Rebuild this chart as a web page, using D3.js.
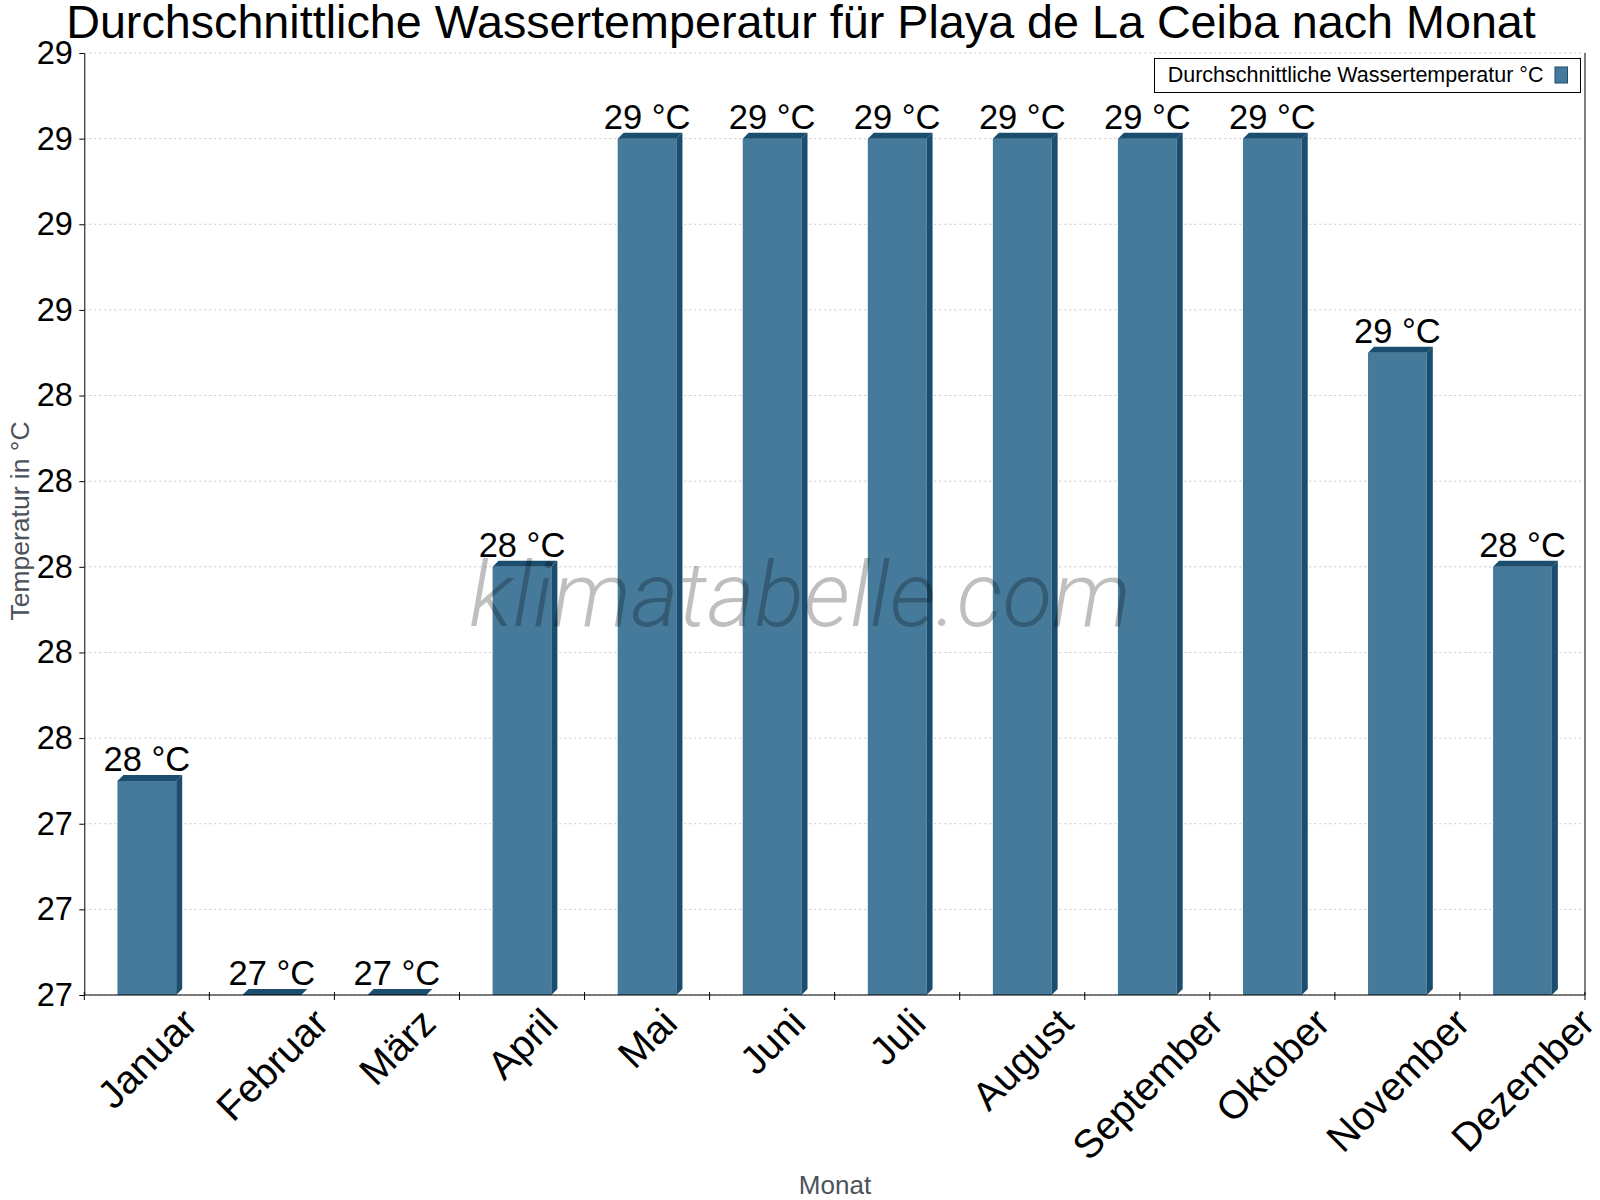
<!DOCTYPE html>
<html>
<head>
<meta charset="utf-8">
<script src="https://cdn.jsdelivr.net/npm/d3@7"></script>
<style>
    body { margin: 0; background: #fff; }
    text { font-family: "Liberation Sans", Arial, sans-serif; }
</style>
</head>
<body>
<div id="chart"></div>
<script>
// data
const months = ["Januar", "Februar", "März", "April", "Mai", "Juni", "Juli", "August", "September", "Oktober", "November", "Dezember"];
const waterTemp = [27.5, 27, 27, 28, 29, 29, 29, 29, 29, 29, 28.5, 28];
const yTicks = [27, 27.2, 27.4, 27.6, 27.8, 28, 28.2, 28.4, 28.6, 28.8, 29, 29.2];
const yDomain = [27, 29.2];

const chartTitle = "Durchschnittliche Wassertemperatur für Playa de La Ceiba nach Monat";
const seriesName = "Durchschnittliche Wassertemperatur °C";
const yTitle = "Temperatur in °C";
const xTitle = "Monat";
const watermark = "klimatabelle.com";

class Barchart {
    constructor(_config, _data) {
        this.config = {
            parentElement: _config.parentElement,
            containerWidth: 1600,
            containerHeight: 1200,
            margin: { top: 53, right: 15, bottom: 205, left: 84.3 },
            front: "#467a9b",
            dark: "#1b4d6e",
            depth: 6
        }
        this.data = _data;
        this.initVis();
    }

    initVis() {
        let vis = this;
        const c = vis.config;

        c.width = c.containerWidth - c.margin.left - c.margin.right;
        c.height = c.containerHeight - c.margin.top - c.margin.bottom;

        vis.root = d3.select(c.parentElement)
            .append("svg")
            .attr("width", c.containerWidth)
            .attr("height", c.containerHeight);

        vis.svg = vis.root.append("g")
            .attr("transform", `translate(${c.margin.left},${c.margin.top})`);

        vis.xScale = d3.scaleBand()
            .domain(months)
            .range([0, c.width])
            .padding(0);

        vis.yScale = d3.scaleLinear()
            .domain(yDomain)
            .range([c.height, 0]);

        // title
        vis.root.append("text")
            .attr("x", 801)
            .attr("y", 38)
            .attr("text-anchor", "middle")
            .attr("font-size", 46.7)
            .attr("fill", "#000")
            .text(chartTitle);

        // grid
        vis.svg.append("g")
            .selectAll("line")
            .data(yTicks)
            .join("line")
            .attr("x1", 0)
            .attr("x2", c.width)
            .attr("y1", d => vis.yScale(d))
            .attr("y2", d => vis.yScale(d))
            .attr("stroke", "#c8c8c8")
            .attr("stroke-dasharray", "2,3");

        // y axis
        vis.yAxis = d3.axisLeft(vis.yScale)
            .tickValues(yTicks)
            .tickFormat(d3.format(".0f"))
            .tickSize(5)
            .tickSizeOuter(0)
            .tickPadding(6.5);

        vis.svg.append("g")
            .attr("class", "y-axis axis")
            .call(vis.yAxis)
            .call(g => g.selectAll("text").attr("font-size", 32.5).attr("fill", "#000")
                .style("font-family", "'Liberation Sans', Arial, sans-serif"))
            .call(g => g.selectAll("line, path").attr("stroke", "#000"));

        // right border
        vis.svg.append("line")
            .attr("x1", c.width).attr("x2", c.width)
            .attr("y1", 0).attr("y2", c.height)
            .attr("stroke", "#000");

        vis.updateVis();
    }

    updateVis() {
        let vis = this;
        const c = vis.config;
        const d = c.depth;
        const bw = vis.xScale.bandwidth() * 0.47;
        const base = vis.yScale(yDomain[0]);

        let bars = vis.svg.append("g").selectAll(".bar")
            .data(vis.data)
            .join("g")
            .attr("class", "bar");

        bars.each(function(p) {
            const g = d3.select(this);
            const x0 = vis.xScale(p.month) + (vis.xScale.bandwidth() - bw) / 2;
            const x1 = x0 + bw;
            const y = vis.yScale(p.value);

            g.append("rect")
                .attr("x", x0)
                .attr("y", y)
                .attr("width", bw)
                .attr("height", base - y)
                .attr("fill", c.front);

            // side face
            if (base - y > 0) {
                g.append("path")
                    .attr("d", `M${x1},${y}L${x1 + d},${y - d}L${x1 + d},${base - d}L${x1},${base}Z`)
                    .attr("fill", c.dark);
            }

            // top face
            g.append("path")
                .attr("d", `M${x0},${y}L${x0 + d},${y - d}L${x1 + d},${y - d}L${x1},${y}Z`)
                .attr("fill", c.dark);
        });

        // value labels
        vis.svg.append("g").selectAll(".value-label")
            .data(vis.data)
            .join("text")
            .attr("class", "value-label")
            .attr("x", p => vis.xScale(p.month) + vis.xScale.bandwidth() / 2)
            .attr("y", p => vis.yScale(p.value) - 10)
            .attr("text-anchor", "middle")
            .attr("font-size", 34.5)
            .attr("fill", "#000")
            .text(p => Math.round(p.value) + " °C");

        // x axis line + ticks at band edges
        const xAxisG = vis.svg.append("g")
            .attr("class", "x-axis axis")
            .attr("transform", `translate(0,${c.height})`);

        xAxisG.append("line")
            .attr("x1", 0).attr("x2", c.width)
            .attr("stroke", "#000");

        xAxisG.selectAll(".tick")
            .data(months.map(m => vis.xScale(m)).concat([c.width]))
            .join("line")
            .attr("class", "tick")
            .attr("x1", x => x).attr("x2", x => x)
            .attr("y1", -3).attr("y2", 5)
            .attr("stroke", "#000");

        // rotated month labels
        const labels = xAxisG.selectAll(".month-label")
            .data(months)
            .join("text")
            .attr("class", "month-label")
            .attr("text-anchor", "middle")
            .attr("dominant-baseline", "central")
            .attr("font-size", 39.5)
            .attr("fill", "#000")
            .text(m => m);

        labels.each(function(m) {
            const w = this.getComputedTextLength();
            const h = 30;
            const cx = vis.xScale(m) + vis.xScale.bandwidth() / 2;
            const cy = 10 + (w + h) * 0.7071 / 2;
            d3.select(this).attr("transform", `translate(${cx},${cy}) rotate(-45)`);
        });

        // axis titles
        vis.root.append("text")
            .attr("x", 835)
            .attr("y", 1194)
            .attr("text-anchor", "middle")
            .attr("font-size", 26)
            .attr("fill", "#4b525b")
            .text(xTitle);

        vis.root.append("text")
            .attr("transform", "translate(29,521) rotate(-90)")
            .attr("text-anchor", "middle")
            .attr("font-size", 26.5)
            .attr("fill", "#4b525b")
            .text(yTitle);

        // watermark
        vis.root.append("text")
            .attr("x", 800)
            .attr("y", 626)
            .attr("text-anchor", "middle")
            .attr("font-size", 91.5)
            .attr("font-style", "italic")
            .attr("font-weight", 300)
            .style("font-family", "Roboto, 'Open Sans', sans-serif")
            .attr("fill", "#000")
            .attr("fill-opacity", 0.25)
            .text(watermark);

        // legend
        const legend = vis.root.append("g").attr("class", "legend");
        legend.append("rect")
            .attr("x", 1154.5).attr("y", 58.5)
            .attr("width", 426).attr("height", 34)
            .attr("fill", "#fff")
            .attr("stroke", "#000");
        legend.append("text")
            .attr("x", 1167.7).attr("y", 82.3)
            .attr("font-size", 21.5)
            .attr("fill", "#000")
            .text(seriesName);
        legend.append("rect")
            .attr("x", 1555).attr("y", 67)
            .attr("width", 12.5).attr("height", 16)
            .attr("fill", c.front)
            .attr("stroke", c.dark);
    }
}

const data = months.map((m, i) => ({ month: m, value: waterTemp[i] }));
new Barchart({ parentElement: "#chart" }, data);
</script>
</body>
</html>
